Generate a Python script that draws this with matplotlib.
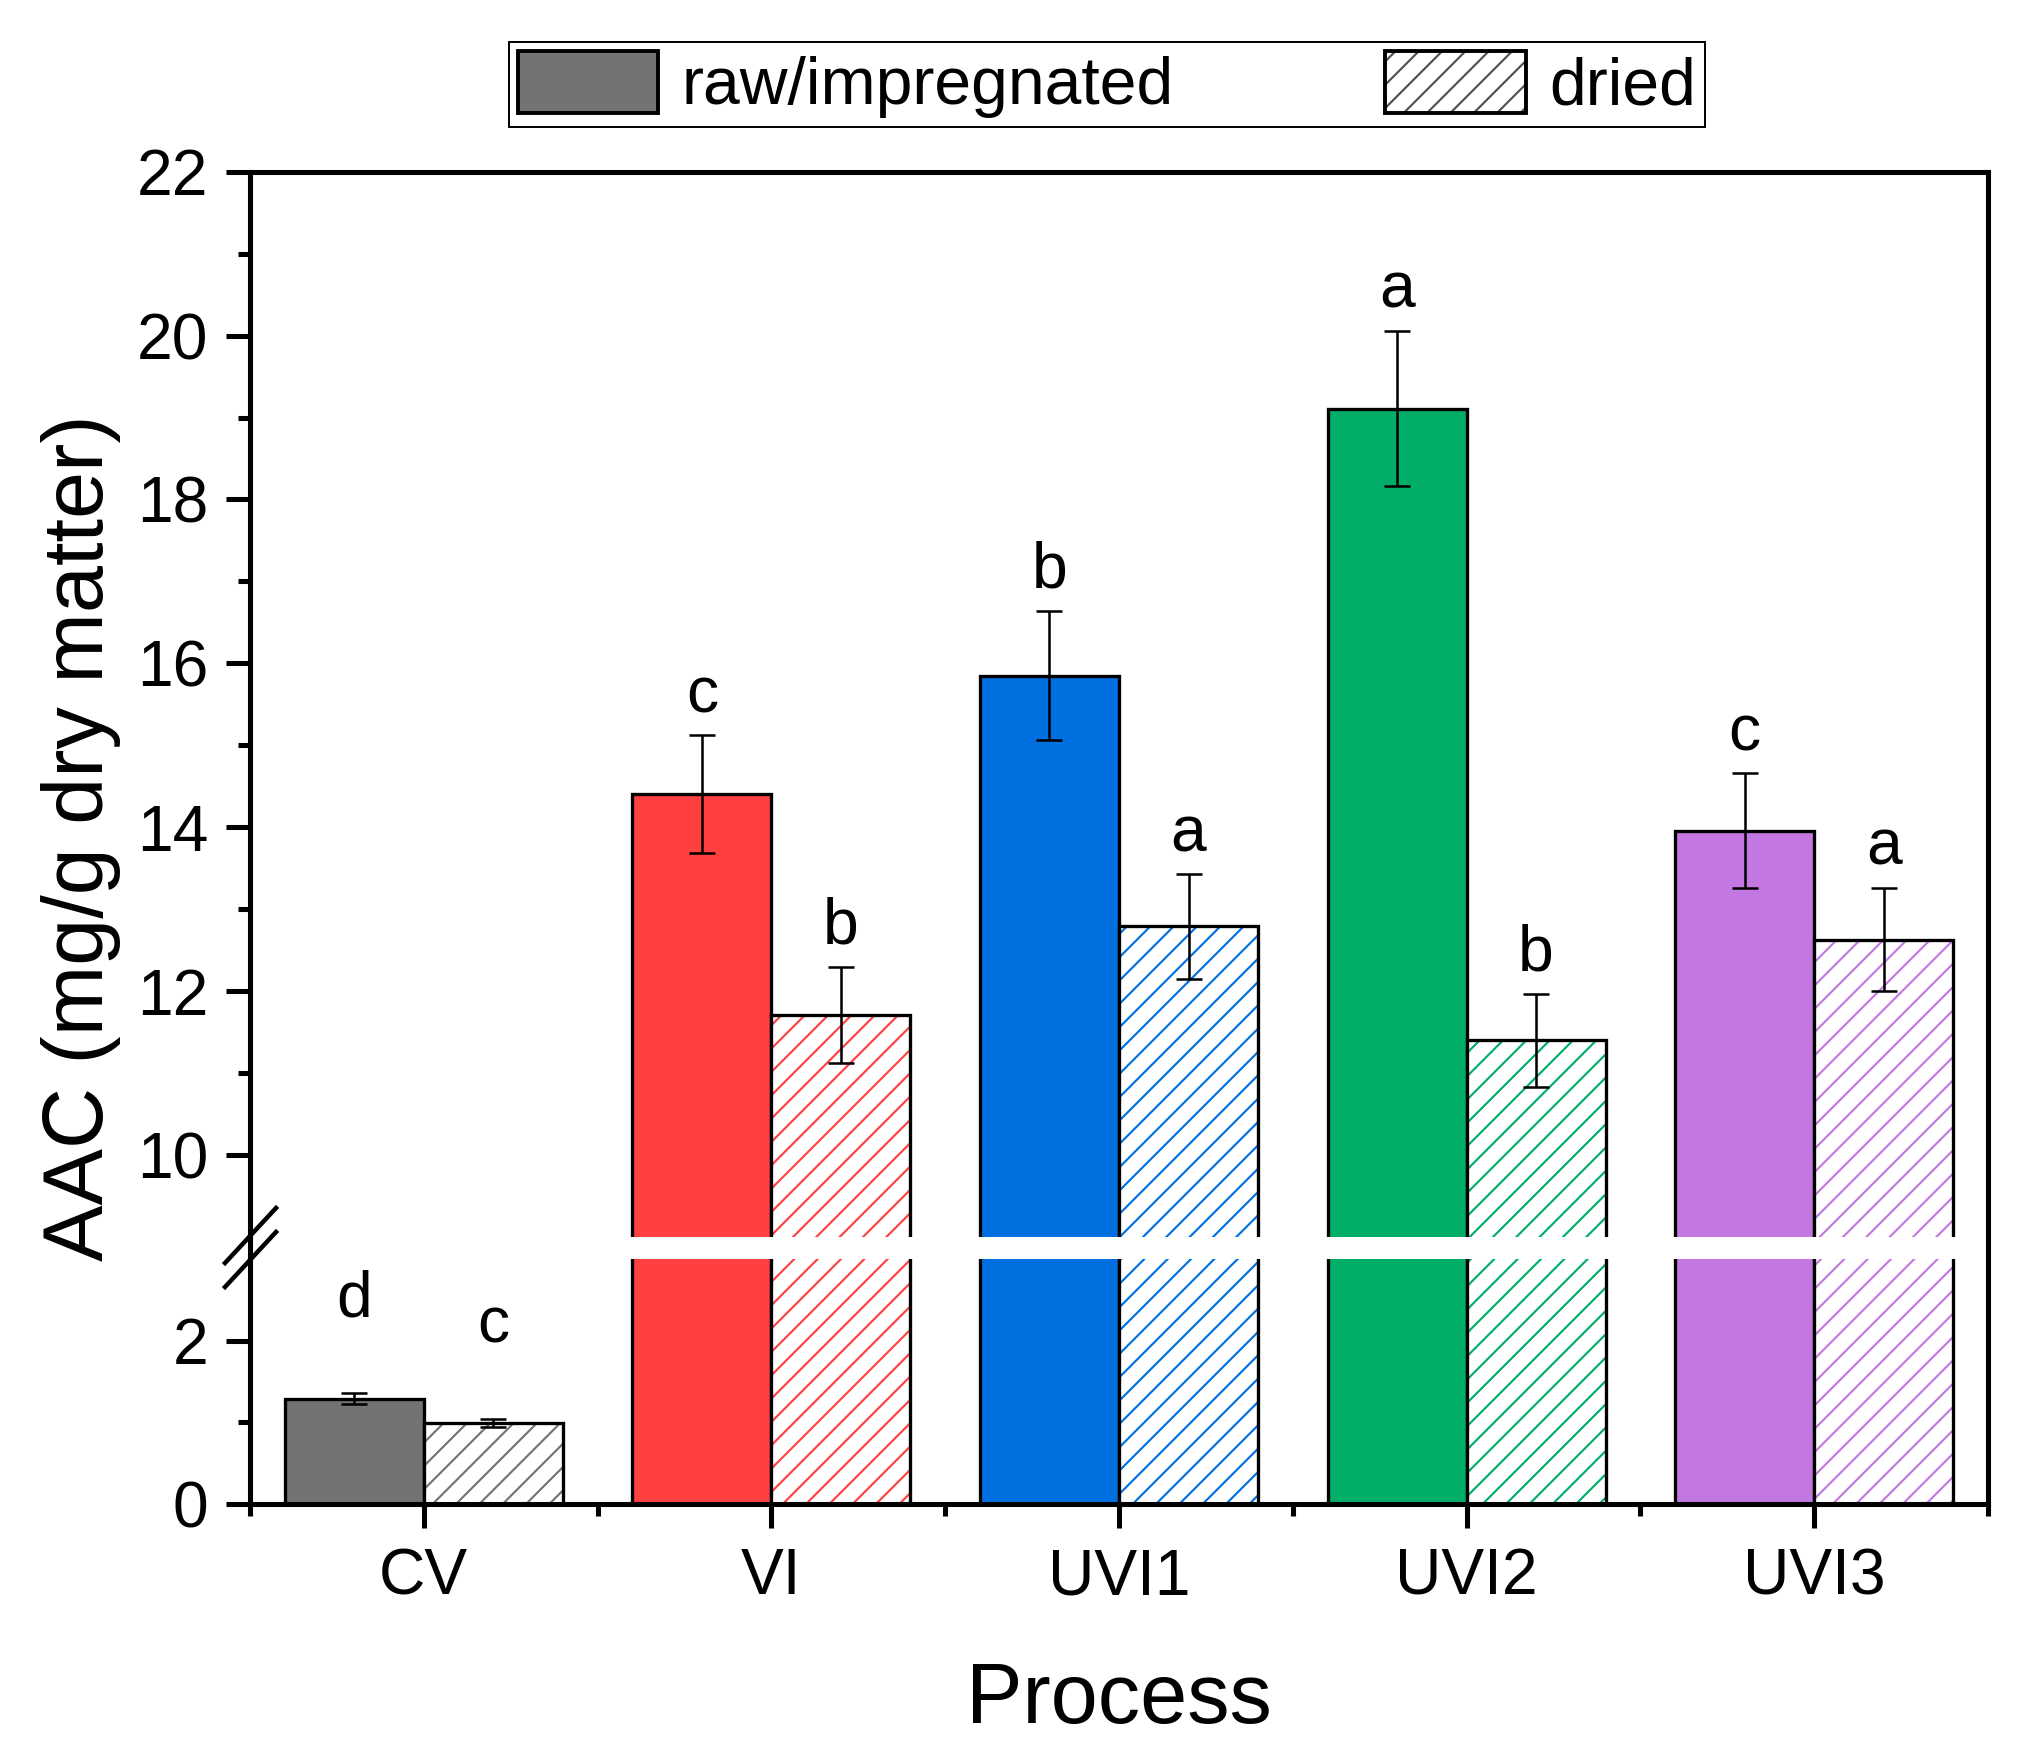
import matplotlib
matplotlib.use('Agg')
import matplotlib.pyplot as plt
from matplotlib.patches import Patch
from matplotlib.lines import Line2D
import numpy as np

# ---- data ----
processes = ['CV', 'VI', 'UVI1', 'UVI2', 'UVI3']
raw_vals = [1.29, 14.40, 15.85, 19.11, 13.96]
raw_err = [0.07, 0.72, 0.79, 0.95, 0.70]
dried_vals = [0.99, 11.71, 12.79, 11.40, 12.63]
dried_err = [0.05, 0.59, 0.64, 0.57, 0.63]
raw_letters = ['d', 'c', 'b', 'a', 'c']
dried_letters = ['c', 'b', 'a', 'b', 'a']
colors = ['#737373', '#FF4040', '#0070E0', '#00AE68', '#C278E0']
legend_labels = ['raw/impregnated', 'dried']
upper_yticks = [10, 12, 14, 16, 18, 20, 22]
lower_yticks = [0, 2]

plt.rcParams['font.family'] = ['Liberation Sans', 'DejaVu Sans']
plt.rcParams['hatch.linewidth'] = 1.1

DPI = 140
W, H = 2035, 1757
fig = plt.figure(figsize=(W / DPI, H / DPI), dpi=DPI)


def fx(px):
    return px / W


def fy(py):
    return 1 - py / H


LEFT, RIGHT = 250, 1988
axu = fig.add_axes([fx(LEFT), fy(1237), fx(RIGHT) - fx(LEFT), fy(171.7) - fy(1237)])
axl = fig.add_axes([fx(LEFT), fy(1504), fx(RIGHT) - fx(LEFT), fy(1259) - fy(1504)])

x = np.arange(len(processes))
bw = 0.4
SPW = 2.6
TICKFS = 33

for ax in (axu, axl):
    ax.bar(x - bw / 2, raw_vals, bw, color=colors, edgecolor='black', linewidth=1.7, zorder=2)
    ax.bar(x + bw / 2, dried_vals, bw, color='white', edgecolor=colors, hatch='//', linewidth=0, zorder=2)
    ax.bar(x + bw / 2, dried_vals, bw, fill=False, edgecolor='black', linewidth=1.7, zorder=3)
    ax.errorbar(x - bw / 2, raw_vals, yerr=raw_err, fmt='none', ecolor='black',
                elinewidth=1.3, capsize=6.7, capthick=1.3, zorder=4)
    ax.errorbar(x + bw / 2, dried_vals, yerr=dried_err, fmt='none', ecolor='black',
                elinewidth=1.3, capsize=6.7, capthick=1.3, zorder=4)
    ax.set_xlim(-0.5, len(processes) - 0.5)
    for s in ax.spines.values():
        s.set_linewidth(SPW)
    ax.tick_params(axis='y', which='major', direction='out', length=12.3, width=SPW,
                   labelsize=TICKFS, pad=9)
    ax.tick_params(axis='y', which='minor', direction='out', length=6.2, width=SPW)

axu.set_ylim(9, 22)
axl.set_ylim(0, 3)
axu.set_yticks(upper_yticks)
axu.set_yticks([11, 13, 15, 17, 19, 21], minor=True)
axl.set_yticks(lower_yticks)
axl.set_yticks([1], minor=True)

axu.spines['bottom'].set_visible(False)
axl.spines['top'].set_visible(False)
axu.tick_params(axis='x', which='both', bottom=False, labelbottom=False)

axl.set_xticks(x)
axl.set_xticklabels(processes)
axl.set_xticks(np.arange(-0.5, len(processes), 1.0), minor=True)
axl.tick_params(axis='x', which='major', direction='out', length=12.3, width=SPW,
                labelsize=TICKFS, pad=10)
axl.tick_params(axis='x', which='minor', direction='out', length=6.2, width=SPW)

# significance letters
for i in range(len(processes)):
    for xpos, v, e, let in ((x[i] - bw / 2, raw_vals[i], raw_err[i], raw_letters[i]),
                            (x[i] + bw / 2, dried_vals[i], dried_err[i], dried_letters[i])):
        if v > 9:
            axu.text(xpos, v + e + 0.28, let, ha='center', va='baseline', fontsize=TICKFS, zorder=5)
        else:
            axl.text(xpos, v + e + 0.94, let, ha='center', va='baseline', fontsize=TICKFS, zorder=5)

# spines across the break gap + break marks
for px in (LEFT, RIGHT):
    fig.add_artist(Line2D([fx(px), fx(px)], [fy(1237), fy(1259)], transform=fig.transFigure,
                          color='black', lw=SPW, solid_capstyle='butt'))
for (x0, y0, x1, y1) in ((225, 1263, 276, 1208), (225, 1287, 276, 1232)):
    fig.add_artist(Line2D([fx(x0), fx(x1)], [fy(y0), fy(y1)], transform=fig.transFigure,
                          color='black', lw=2.3))

# axis labels
fig.text(fx(1119), fy(1723), 'Process', ha='center', va='baseline', fontsize=43.5)
fig.text(fx(103.3), fy(838), 'AAC (mg/g dry matter)', rotation=90, rotation_mode='anchor',
         ha='center', va='baseline', fontsize=43.5)

# legend
h_raw = Patch(facecolor=colors[0], edgecolor='black', linewidth=2.0)
h_dried = (Patch(facecolor='white', edgecolor='#505050', hatch='//', linewidth=0),
           Patch(fill=False, edgecolor='black', linewidth=2.0))
leg = fig.legend(handles=[h_raw, h_dried], labels=legend_labels, ncol=2, loc='center',
                 bbox_to_anchor=(fx(1107), fy(84.5)), fontsize=34, handlelength=2.12,
                 handleheight=1.06, handletextpad=0.36, columnspacing=3.2, borderpad=0.13,
                 frameon=True, fancybox=False, edgecolor='black', framealpha=1)
leg.get_frame().set_linewidth(1.0)

fig.savefig('out.png', dpi=DPI)
